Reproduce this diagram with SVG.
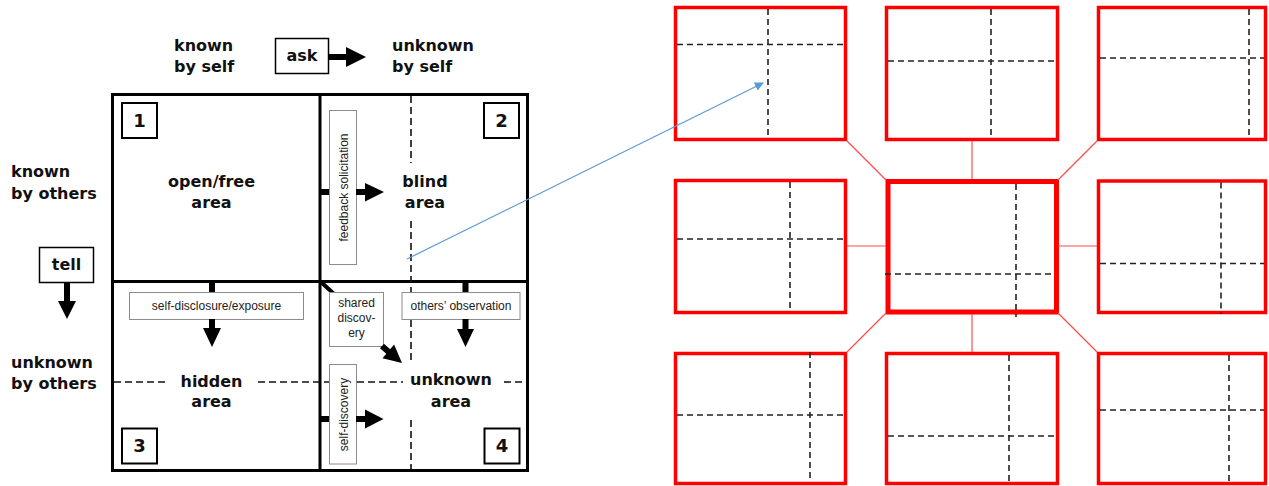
<svg xmlns="http://www.w3.org/2000/svg" width="1269" height="486" viewBox="0 0 1269 486">
  <style>
    .bold { font-family: "DejaVu Sans", Verdana, sans-serif; font-weight: bold; font-size: 16px; fill: #111; }
    .num { font-family: "DejaVu Sans", Verdana, sans-serif; font-weight: bold; font-size: 18px; fill: #111; text-anchor: middle; }
    .small { font-family: "Liberation Sans", Arial, sans-serif; font-size: 12px; fill: #222; text-anchor: middle; }
    .mid { text-anchor: middle; }
    .grid { fill: none; stroke: #000; stroke-width: 3; }
    .numbox { fill: #fff; stroke: #000; stroke-width: 2; }
    .label { fill: #fff; stroke: #000; stroke-width: 1.5; }
    .tag { fill: #fff; stroke: #8c8c8c; stroke-width: 1; }
    .shaft { stroke: #000; stroke-width: 6; fill: none; }
    .head { fill: #000; }
    .dash { stroke: #111; stroke-width: 1.6; stroke-dasharray: 7 4; fill: none; }
    .win { fill: none; stroke: #ff0000; stroke-width: 3.5; }
    .win-main { fill: none; stroke: #ff0000; stroke-width: 5; }
    .rdash { stroke: #222; stroke-width: 1.6; stroke-dasharray: 6 4; fill: none; }
    .link { stroke: #ff4d4d; stroke-width: 1.2; fill: none; }
  </style>
  <defs>
    <marker id="blueHead" viewBox="0 0 10 10" refX="9" refY="5" markerWidth="9" markerHeight="9" markerUnits="userSpaceOnUse" orient="auto">
      <path d="M0,0 L10,5 L0,10 Z" fill="#5b9bd5"/>
    </marker>
  </defs>
  <rect width="1269" height="486" fill="#fff"/>

  <!-- axis labels -->
  <g id="axis-labels">
    <text class="bold" x="174" y="51">known</text>
    <text class="bold" x="174" y="72">by self</text>
    <text class="bold" x="392" y="51">unknown</text>
    <text class="bold" x="392" y="72">by self</text>
    <text class="bold" x="11" y="177">known</text>
    <text class="bold" x="11" y="199">by others</text>
    <text class="bold" x="11" y="368">unknown</text>
    <text class="bold" x="11" y="389">by others</text>
  </g>

  <g id="ask">
    <rect class="label" x="275.5" y="38.5" width="53" height="35"/>
    <text class="bold mid" x="302" y="61">ask</text>
    <line class="shaft" x1="329" y1="57" x2="348" y2="57"/>
    <polygon class="head" points="346,47 366,57 346,67"/>
  </g>

  <g id="tell">
    <rect class="label" x="39.5" y="247.5" width="54" height="35"/>
    <text class="bold mid" x="66.5" y="270">tell</text>
    <line class="shaft" x1="67" y1="283" x2="67" y2="303"/>
    <polygon class="head" points="58,301 76,301 67,319"/>
  </g>

  <!-- Johari window grid -->
  <g id="window">
    <rect class="grid" x="112.5" y="94.5" width="415" height="376"/>
    <line class="grid" x1="320" y1="94.5" x2="320" y2="470.5"/>
    <line class="grid" x1="112.5" y1="281.5" x2="527.5" y2="281.5"/>
    <!-- dashed guides -->
    <line class="dash" x1="411" y1="96" x2="411" y2="163"/>
    <line class="dash" x1="411" y1="221" x2="411" y2="362"/>
    <line class="dash" x1="411" y1="420" x2="411" y2="469"/>
    <line class="dash" x1="114" y1="382" x2="167" y2="382"/>
    <line class="dash" x1="258" y1="382" x2="403" y2="382"/>
    <line class="dash" x1="504" y1="382" x2="526" y2="382"/>
  </g>

  <g id="quadrant-1">
    <rect class="numbox" x="122" y="103" width="35" height="35"/>
    <text class="num" x="139.5" y="127">1</text>
    <text class="bold mid" x="211.5" y="187">open/free</text>
    <text class="bold mid" x="211.5" y="208">area</text>
  </g>

  <g id="quadrant-2">
    <rect class="numbox" x="484" y="103" width="35" height="35"/>
    <text class="num" x="501.5" y="127">2</text>
    <text class="bold mid" x="425" y="187">blind</text>
    <text class="bold mid" x="425" y="208">area</text>
  </g>

  <g id="quadrant-3">
    <rect class="numbox" x="122" y="428.5" width="35" height="35"/>
    <text class="num" x="139.5" y="452">3</text>
    <text class="bold mid" x="211.5" y="387">hidden</text>
    <text class="bold mid" x="211.5" y="407">area</text>
  </g>

  <g id="quadrant-4">
    <rect class="numbox" x="484.5" y="428.5" width="35" height="35"/>
    <text class="num" x="502" y="452">4</text>
    <text class="bold mid" x="451" y="385">unknown</text>
    <text class="bold mid" x="451" y="407">area</text>
  </g>

  <!-- grid of window variants -->
  <g id="win-top-left">
    <rect class="win" x="675.5" y="7.5" width="170" height="132"/>
    <line class="rdash" x1="768" y1="9" x2="768" y2="138"/>
    <line class="rdash" x1="677" y1="44.5" x2="844" y2="44.5"/>
  </g>
  <g id="win-top-middle">
    <rect class="win" x="886.5" y="7.5" width="171" height="132"/>
    <line class="rdash" x1="991" y1="9" x2="991" y2="138"/>
    <line class="rdash" x1="888" y1="61" x2="1056" y2="61"/>
  </g>
  <g id="win-top-right">
    <rect class="win" x="1098.5" y="7.5" width="167" height="132"/>
    <line class="rdash" x1="1249" y1="9" x2="1249" y2="138"/>
    <line class="rdash" x1="1100" y1="58" x2="1264" y2="58"/>
  </g>
  <g id="win-middle-left">
    <rect class="win" x="675.5" y="180.5" width="170" height="132"/>
    <line class="rdash" x1="790" y1="182" x2="790" y2="311"/>
    <line class="rdash" x1="677" y1="239" x2="844" y2="239"/>
  </g>
  <g id="win-center">
    <rect class="win-main" x="888" y="181.5" width="168.5" height="130.5"/>
    <line class="rdash" x1="1016" y1="184" x2="1016" y2="317"/>
    <line class="rdash" x1="885" y1="274" x2="1055" y2="274"/>
  </g>
  <g id="win-middle-right">
    <rect class="win" x="1098.5" y="181" width="167" height="131.5"/>
    <line class="rdash" x1="1221" y1="182.5" x2="1221" y2="314"/>
    <line class="rdash" x1="1100" y1="263.5" x2="1264" y2="263.5"/>
  </g>
  <g id="win-bottom-left">
    <rect class="win" x="675.5" y="353.5" width="170" height="130"/>
    <line class="rdash" x1="810" y1="352" x2="810" y2="482"/>
    <line class="rdash" x1="677" y1="415" x2="844" y2="415"/>
  </g>
  <g id="win-bottom-middle">
    <rect class="win" x="886.5" y="353.5" width="171" height="130"/>
    <line class="rdash" x1="1009" y1="355" x2="1009" y2="482"/>
    <line class="rdash" x1="888" y1="436" x2="1056" y2="436"/>
  </g>
  <g id="win-bottom-right">
    <rect class="win" x="1098.5" y="353.5" width="167" height="130"/>
    <line class="rdash" x1="1229" y1="355" x2="1229" y2="485"/>
    <line class="rdash" x1="1100" y1="410" x2="1264" y2="410"/>
  </g>

  <!-- transitions between areas, links between windows -->
  <g id="connectors">
    <g id="feedback-solicitation">
      <line class="shaft" x1="320" y1="192" x2="330" y2="192"/>
      <rect class="tag" x="329.5" y="110.5" width="27" height="154"/>
      <text class="small" transform="translate(347.5,187.5) rotate(-90)">feedback solicitation</text>
      <line class="shaft" x1="356" y1="192" x2="367" y2="192"/>
      <polygon class="head" points="365,183 384,192 365,201.5"/>
    </g>
    <g id="self-disclosure">
      <line class="shaft" x1="212" y1="281" x2="212" y2="293"/>
      <rect class="tag" x="129.5" y="292.5" width="174" height="27"/>
      <text class="small" x="216.5" y="310">self-disclosure/exposure</text>
      <line class="shaft" x1="212" y1="319" x2="212" y2="330"/>
      <polygon class="head" points="203,328 221,328 212,347"/>
    </g>
    <g id="shared-discovery">
      <line stroke="#000" stroke-width="4" x1="321" y1="282" x2="334" y2="294"/>
      <rect class="tag" x="329.5" y="292.5" width="54" height="54"/>
      <text class="small" x="356.5" y="307">shared</text>
      <text class="small" x="356.5" y="322">discov-</text>
      <text class="small" x="356.5" y="337">ery</text>
      <line class="shaft" x1="382" y1="346" x2="391" y2="354"/>
      <polygon class="head" points="382.5,358.2 394.1,344.4 402,363"/>
    </g>
    <g id="others-observation">
      <line class="shaft" x1="465.5" y1="281" x2="465.5" y2="292"/>
      <rect class="tag" x="402" y="292.5" width="118" height="27"/>
      <text class="small" x="461" y="310">others’ observation</text>
      <line class="shaft" x1="465.5" y1="319" x2="465.5" y2="331"/>
      <polygon class="head" points="457,329 474,329 465.5,347"/>
    </g>
    <g id="self-discovery">
      <line class="shaft" x1="320" y1="419" x2="330" y2="419"/>
      <rect class="tag" x="329.5" y="364.5" width="27" height="99.5"/>
      <text class="small" transform="translate(347.5,414.5) rotate(-90)">self-discovery</text>
      <line class="shaft" x1="356" y1="419" x2="367" y2="419"/>
      <polygon class="head" points="365,409.5 383.5,419 365,428.5"/>
    </g>

    <g id="window-links">
      <line class="link" x1="847" y1="141" x2="886" y2="180"/>
      <line class="link" x1="972" y1="141" x2="972" y2="179"/>
      <line class="link" x1="1097" y1="141" x2="1058" y2="180"/>
      <line class="link" x1="847" y1="246" x2="886" y2="246"/>
      <line class="link" x1="1058" y1="246" x2="1097" y2="246"/>
      <line class="link" x1="886" y1="313" x2="847" y2="352"/>
      <line class="link" x1="972" y1="314" x2="972" y2="352"/>
      <line class="link" x1="1058" y1="313" x2="1097" y2="352"/>
    </g>

    <line stroke="#5b9bd5" stroke-width="1.2" x1="407" y1="259" x2="763" y2="83" marker-end="url(#blueHead)"/>
  </g>
</svg>
